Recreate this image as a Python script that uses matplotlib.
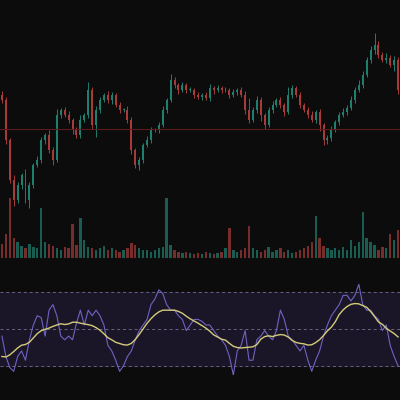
import numpy as np
import pandas as pd
import matplotlib
matplotlib.use("Agg")
import matplotlib.pyplot as plt

# closes (price units), one per candle
closes = [160, 120, 80, 60, 75, 85, 60, 75, 95, 100, 120, 125, 110, 100, 145, 150, 145, 140, 130, 125,
          140, 145, 170, 135, 150, 160, 165, 160, 165, 155, 150, 150, 140, 110, 95, 100, 115, 120, 130, 130,
          135, 150, 160, 180, 175, 170, 175, 170, 170, 165, 163, 165, 162, 172, 170, 172, 170, 170, 165, 168,
          170, 165, 150, 140, 150, 160, 145, 135, 150, 155, 160, 155, 148, 165, 172, 165, 155, 150, 145, 140,
          148, 135, 120, 122, 130, 138, 145, 148, 152, 160, 170, 175, 185, 200, 210, 215, 205, 200, 202, 195,
          200, 170]
wick_up = [4, 3, 2, 5, 3, 2, 6, 3, 2, 4, 3, 2, 5, 3, 6, 2, 3, 4, 2, 3,
           5, 2, 8, 3, 4, 3, 2, 4, 3, 2, 3, 2, 4, 3, 2, 3, 2, 4, 3, 2,
           3, 4, 2, 6, 3, 2, 3, 2, 3, 2, 3, 2, 3, 4, 2, 3, 2, 3, 2, 3,
           2, 3, 4, 12, 3, 4, 3, 2, 3, 4, 2, 3, 2, 8, 3, 2, 3, 2, 3, 4,
           2, 3, 2, 3, 4, 2, 3, 4, 3, 4, 3, 5, 4, 3, 4, 12, 4, 3, 5, 3,
           4, 3]
wick_dn = [3, 4, 3, 6, 3, 4, 3, 8, 3, 2, 3, 4, 3, 5, 2, 3, 2, 3, 4, 3,
           3, 2, 3, 4, 12, 3, 2, 3, 4, 2, 3, 2, 3, 4, 3, 5, 3, 2, 3, 2,
           3, 2, 3, 2, 3, 4, 2, 3, 2, 3, 2, 3, 2, 3, 4, 2, 3, 2, 3, 2,
           3, 2, 4, 3, 2, 3, 6, 4, 2, 3, 2, 3, 4, 2, 3, 2, 3, 2, 3, 2,
           3, 6, 5, 4, 3, 2, 3, 2, 3, 2, 3, 2, 3, 2, 3, 4, 3, 2, 3, 2,
           6, 4]
volumes = [14, 24, 60, 20, 16, 12, 10, 14, 11, 10, 50, 16, 14, 12, 10, 8, 11, 10, 34, 13,
           40, 18, 11, 10, 8, 10, 12, 8, 10, 8, 6, 8, 10, 15, 13, 10, 8, 8, 6, 8,
           10, 11, 60, 13, 8, 6, 5, 6, 5, 4, 5, 4, 6, 5, 4, 5, 6, 10, 30, 8,
           6, 8, 10, 32, 10, 8, 6, 8, 11, 6, 8, 10, 6, 8, 5, 6, 8, 10, 12, 16,
           42, 20, 12, 10, 8, 10, 8, 11, 8, 18, 12, 16, 46, 20, 16, 13, 8, 11, 10, 24,
           18, 28]
line_level = 131

rsi = [46, 35, 29, 27, 35, 38, 33, 44, 52, 57, 56, 46, 60, 63, 57, 46, 44, 46, 44, 53,
       60, 52, 60, 57, 60, 57, 52, 41, 38, 33, 27, 30, 35, 38, 44, 49, 52, 55, 63, 66,
       71, 69, 63, 60, 60, 57, 55, 49, 52, 55, 55, 54, 52, 52, 49, 46, 44, 41, 35, 25,
       38, 41, 49, 33, 33, 44, 46, 49, 46, 44, 49, 60, 55, 46, 44, 41, 38, 41, 33, 27,
       33, 38, 46, 52, 57, 60, 63, 68, 68, 65, 68, 74, 63, 60, 60, 57, 55, 49, 52, 41,
       35, 30]

bg = "#0c0c0c"
green = "#1f7f6f"
red = "#a83a3a"

fig = plt.figure(figsize=(4, 4), dpi=100, facecolor=bg)
ax = fig.add_axes([0, 0.35, 1, 0.65], facecolor=bg)
axv = fig.add_axes([0, 0.35, 1, 0.65], facecolor="none")
axr = fig.add_axes([0, 0.0625, 1, 0.25], facecolor=bg)

n = len(closes)
x = np.arange(n)
opens = [closes[0] + 5] + closes[:-1]
for i in range(n):
    o, c = opens[i], closes[i]
    col = green if c >= o else red
    lo, hi = min(o, c), max(o, c)
    ax.vlines(i, lo - wick_dn[i], hi + wick_up[i], color=col, lw=0.7)
    ax.bar(i, max(hi - lo, 1), bottom=lo, width=0.5, color=col)
    axv.bar(i, volumes[i], width=0.6, color=col, alpha=0.7)
ax.axhline(line_level, color="#5a1c1c", lw=0.8)
ax.set_xlim(-0.5, n - 0.5)
ax.set_ylim(0, 260)
axv.set_xlim(-0.5, n - 0.5)
axv.set_ylim(-2, 260)

rsi_ma = pd.Series(rsi).rolling(12, min_periods=1, center=True).mean()
axr.axhspan(30, 70, color="#1a1628")
for lvl in (30, 50, 70):
    axr.axhline(lvl, color="#6a6480", lw=0.7, ls=(0, (3, 3)))
axr.plot(x, rsi, color="#6f63c2", lw=0.8)
axr.plot(x, rsi_ma, color="#d4cb7a", lw=1.0)
axr.set_xlim(-0.5, n - 0.5)
axr.set_ylim(25, 79)

for a in (ax, axv, axr):
    a.axis("off")

fig.savefig("out.png", dpi=100, facecolor=bg)
